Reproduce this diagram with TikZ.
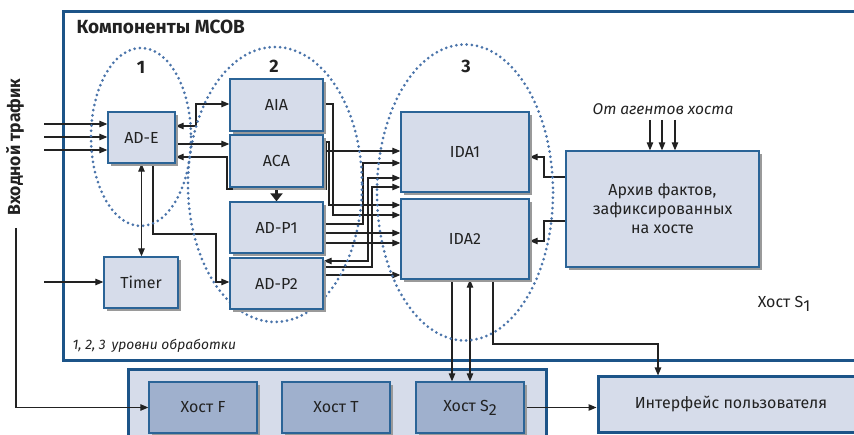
\documentclass[tikz,border=0pt]{standalone}
\usepackage{fontspec}
\setmainfont{Fira Sans}
\usetikzlibrary{arrows.meta,shadows}
\definecolor{boxfill}{HTML}{D6DCEA}
\definecolor{hostfill}{HTML}{9FB0CD}
\definecolor{boxline}{HTML}{2B6497}
\definecolor{frameline}{HTML}{1C5488}
\definecolor{dotblue}{HTML}{4A74AA}
\definecolor{ink}{HTML}{222222}
\definecolor{shade}{HTML}{9A9A9A}
\pgfdeclarelayer{bg}
\pgfsetlayers{bg,main}
\begin{document}
\begin{tikzpicture}[x=1pt,y=-1pt,
  font=\fontsize{16}{19}\selectfont, text=ink,
  unit/.style={draw=boxline, line width=1.3pt, fill=boxfill, inner sep=0pt,
    drop shadow={shadow xshift=3pt, shadow yshift=-3pt, fill=shade, opacity=1}},
  hostbox/.style={unit, fill=hostfill},
  frame/.style={draw=frameline, line width=3pt, inner sep=0pt},
  arr/.style={draw=ink, line width=1.1pt, -{Triangle[length=8pt,width=6.5pt]}},
  arrtwo/.style={arr, {Triangle[length=8pt,width=6.5pt]}-{Triangle[length=8pt,width=6.5pt]}},
  level/.style={draw=dotblue, line width=3pt, line cap=round, dash pattern=on 0pt off 5.2pt},
  numlabel/.style={font=\bfseries\fontsize{18}{21}\selectfont},
  note/.style={font=\itshape\fontsize{15.5}{18}\selectfont}]
\useasboundingbox (0,0) rectangle (854,435);

% outer frames
\begin{pgfonlayer}{bg}
\node[frame, fill=white, minimum width=808pt, minimum height=349pt, anchor=north west] (mcob) at (62,10) {};
\node[frame, fill=boxfill, minimum width=418pt, minimum height=80pt, anchor=north west] (hosts) at (127,368) {};
\end{pgfonlayer}

% texts
\node[anchor=west, font=\bfseries\fontsize{19}{22}\selectfont] (title) at (73,27) {Компоненты МСОВ};
\node[numlabel] (n1) at (141,67) {1};
\node[numlabel] (n2) at (274,66) {2};
\node[numlabel] (n3) at (466,66) {3};
\node[rotate=90, font=\bfseries\fontsize{17.5}{20}\selectfont] (traffic) at (15,147) {Входной трафик};
\node[note] (agents) at (663,109) {От агентов хоста};
\node[anchor=west, font=\itshape\fontsize{13.8}{16}\selectfont] (levels) at (69,346) {1, 2, 3\, уровни обработки};
\node (s1) at (784,304) {Хост S\raisebox{-0.45ex}{1}};

% components
\node[unit, minimum width=67pt, minimum height=51pt] (ade) at (141.5,137.5) {AD-E};
\node[unit, minimum width=74pt, minimum height=51pt] (timer) at (141,282.5) {Timer};
\node[unit, minimum width=93pt, minimum height=52pt] (aia) at (276.5,105) {AIA};
\node[unit, minimum width=93pt, minimum height=52pt] (aca) at (276.5,161) {ACA};
\node[unit, minimum width=93pt, minimum height=51pt] (adp1) at (276.5,227.5) {AD-P1};
\node[unit, minimum width=93pt, minimum height=51pt] (adp2) at (276.5,283.5) {AD-P2};
\node[unit, minimum width=128pt, minimum height=80pt] (ida1) at (465,152) {IDA1};
\node[unit, minimum width=128pt, minimum height=80pt] (ida2) at (465,239) {IDA2};
\node[unit, minimum width=193pt, minimum height=116pt, align=center] (arch) at (662.5,209)
  {Архив фактов,\\зафиксированных\\на хосте};
\node[hostbox, minimum width=108pt, minimum height=51pt] (hf) at (203,407.5) {Хост F};
\node[hostbox, minimum width=108pt, minimum height=51pt] (ht) at (336,407.5) {Хост T};
\node[hostbox, minimum width=108pt, minimum height=51pt] (hs) at (470,407.5) {Хост S\raisebox{-0.45ex}{2}};
\node[frame, fill=boxfill, minimum width=266pt, minimum height=55pt] (ui) at (731,404.5) {Интерфейс пользователя};

% free ends of the incoming lines
\coordinate (in1) at (44,124);
\coordinate (in2) at (44,137);
\coordinate (in3) at (44,150);
\coordinate (in4) at (44,282);
\coordinate (tr) at (16,228);
\coordinate (ag1) at (650,120);
\coordinate (ag2) at (662,120);
\coordinate (ag3) at (675,120);

\begin{pgfonlayer}{bg}
% incoming traffic
\draw[arr] (in1) -- (ade.west |- in1);
\draw[arr] (in2) -- (ade.west |- in2);
\draw[arr] (in3) -- (ade.west |- in3);
\draw[arr] (in4) -- (timer.west |- in4);
\draw[arr] (tr) |- (hf.west);

% level 1 -> level 2
\draw[arrtwo] (ade.south) -- (ade.south |- timer.north);
\draw[arr] (ade.south -| 153,0) |- (216,234) |- (adp2.west |- 0,282);
\draw[arrtwo] (ade.east |- 0,126) -| (196,104) -- (aia.west |- 0,104);
\draw[arr] (ade.east |- 0,144) -- (aca.west |- 0,144);
\draw[arr] (aca.east |- 0,142) -- (326,142) -- (326,189) -| (227,157) -- (ade.east |- 0,157);
\draw[line width=3.5pt, draw=ink, -{Triangle[length=8pt,width=12pt]}] (aca.south |- 0,190) -- (adp1.north);

% level 2 -> level 3
\draw[arr] (326,151) -- (ida1.west |- 0,151);
\draw[arr] (aia.east |- 0,104) -| (333,215) -- (ida2.west |- 0,215);
\draw[arr] (aca.east |- 0,142) -| (329,205) -- (ida2.west |- 0,205);
\draw[arr] (adp1.east |- 0,224) -| (363,163) -- (ida1.west |- 0,163);
\draw[arr] (adp1.east |- 0,233) -- (ida2.west |- 0,233);
\draw[arr] (adp1.east |- 0,243) -- (ida2.west |- 0,243);
\draw[arrtwo] (adp2.east |- 0,261) -| (368,178) -- (ida1.west |- 0,178);
\draw[arr] (adp2.east |- 0,267) -| (372,187) -- (ida1.west |- 0,187);
\draw[arr] (adp2.east |- 0,275) -- (ida2.west |- 0,275);

% archive
\draw[arr] (arch.west |- 0,177) -| (544,157) -- (ida1.east |- 0,157);
\draw[arr] (arch.west |- 0,221) -| (544,241) -- (ida2.east |- 0,241);
\draw[arr] (ag1) -- (arch.north -| ag1);
\draw[arr] (ag2) -- (arch.north -| ag2);
\draw[arr] (ag3) -- (arch.north -| ag3);

% level 3 -> hosts and user interface
\draw[arr] (ida2.south -| 452,0) -- (hs.north -| 452,0);
\draw[arrtwo] (ida2.south -| 470,0) -- (hs.north -| 470,0);
\draw[arr] (ida2.south -| 493,0) |- (658,344) -- (ui.north -| 658,0);
\draw[arr] (hs.east) -- (ui.west |- hs.east);

% processing levels
\draw[level] (141,137) ellipse [x radius=50, y radius=89];
\draw[level] (275,184.5) ellipse [x radius=87, y radius=137.5];
\draw[level] (465,192.5) ellipse [x radius=88, y radius=148];
\end{pgfonlayer}
\end{tikzpicture}
\end{document}
